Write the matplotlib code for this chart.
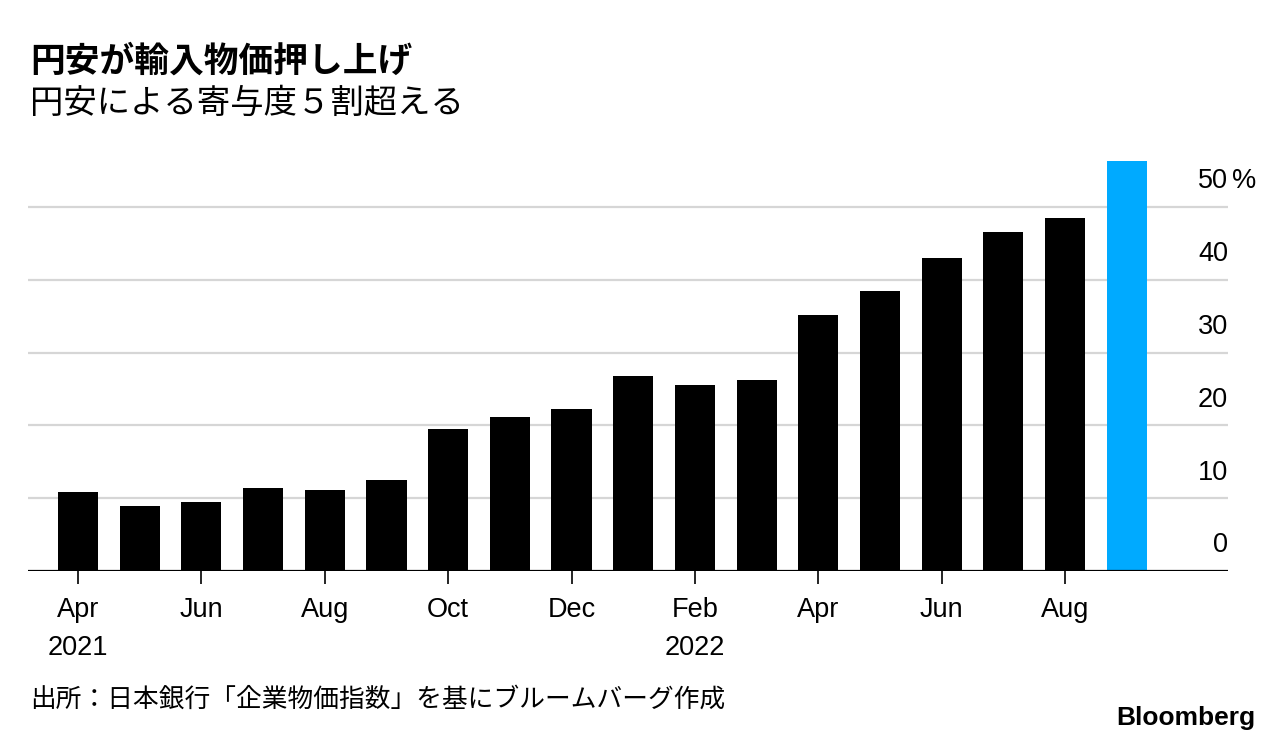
import matplotlib
matplotlib.use('Agg')
import matplotlib.pyplot as plt
import matplotlib.transforms as mtransforms

# Yen-weakness contribution to import prices (%), Apr 2021 - Sep 2022
months = ['Apr', 'May', 'Jun', 'Jul', 'Aug', 'Sep', 'Oct', 'Nov', 'Dec',
          'Jan', 'Feb', 'Mar', 'Apr', 'May', 'Jun', 'Jul', 'Aug', 'Sep']
values = [10.9, 8.9, 9.5, 11.4, 11.1, 12.5, 19.5, 21.2, 22.3,
          26.8, 25.5, 26.2, 35.2, 38.5, 43.0, 46.6, 48.5, 56.3]
highlight = [False] * 17 + [True]
yticks = [0, 10, 20, 30, 40, 50]
year_labels = {0: '2021', 10: '2022'}

plt.rcParams['font.family'] = ['Liberation Sans', 'DejaVu Sans']
cjk = ['Noto Sans CJK JP', 'DejaVu Sans']

fig = plt.figure(figsize=(12.85, 7.42), dpi=100)
ax = fig.add_axes([0.0218, 0.2305, 0.9338, 0.5593])

x = list(range(len(values)))
colors = ['#00aaff' if h else '#000000' for h in highlight]
ax.bar(x, values, width=0.65, color=colors, zorder=3)

ax.set_xlim(-0.81, 18.64)
ax.set_ylim(0, 57)

for s in ax.spines.values():
    s.set_visible(False)

# gridlines
for v in yticks[1:]:
    ax.axhline(v, color='#d6d6d6', lw=1.6, zorder=1)
ax.axhline(0, color='black', lw=1.6, zorder=4)

# right-hand labels sitting above gridlines
trans = mtransforms.blended_transform_factory(ax.transAxes, ax.transData)
offset = mtransforms.ScaledTranslation(0, 9 / 72, fig.dpi_scale_trans)
for v in yticks:
    ax.text(1.0, v, str(v), transform=trans + offset, ha='right', va='bottom',
            fontsize=19.5)
pct_offset = mtransforms.ScaledTranslation(3 / 72, 9 / 72, fig.dpi_scale_trans)
ax.text(1.0, yticks[-1], '%', transform=trans + pct_offset, ha='left',
        va='bottom', fontsize=19.5)
ax.set_yticks([])

# x ticks every other month
tick_pos = [i for i in x if i % 2 == 0]
ax.set_xticks(tick_pos)
ax.set_xticklabels([months[i] for i in tick_pos], fontsize=19.5)
ax.tick_params(axis='x', length=9, width=1.2, color='black', pad=10)

for i, yr in year_labels.items():
    ax.annotate(yr, xy=(i, 0), xycoords=('data', 'axes fraction'),
                xytext=(0, -46), textcoords='offset points',
                ha='center', va='top', fontsize=19.5)

fig.text(0.0233, 0.918, '円安が輸入物価押し上げ', family=cjk, fontsize=25,
         fontweight='bold', va='center')
fig.text(0.0233, 0.860, '円安による寄与度５割超える', family=cjk, fontsize=24,
         va='center')
fig.text(0.0233, 0.057, '出所：日本銀行「企業物価指数」を基にブルームバーグ作成',
         family=cjk, fontsize=18.5, va='center')
fig.text(0.977, 0.033, 'Bloomberg', fontsize=19, fontweight='bold',
         ha='right', va='center')

fig.savefig('out.png', dpi=100)
